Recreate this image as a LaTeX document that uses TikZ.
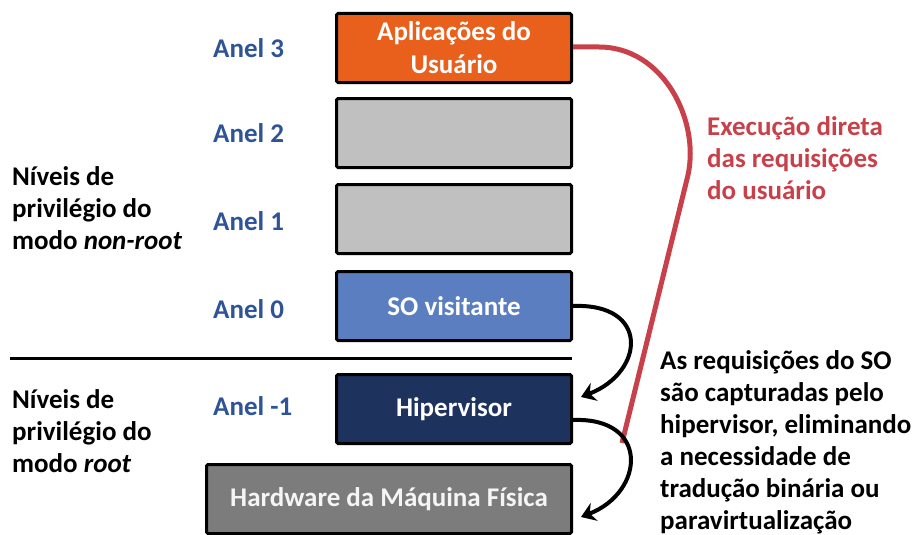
\documentclass[tikz,border=0pt]{standalone}
\usepackage{fontspec}
\setmainfont{Carlito}
\usetikzlibrary{arrows.meta}

\definecolor{ringblue}{RGB}{46,84,150}
\definecolor{userorange}{RGB}{232,96,28}
\definecolor{ringgray}{RGB}{192,192,192}
\definecolor{guestblue}{RGB}{90,126,192}
\definecolor{hypnavy}{RGB}{30,50,94}
\definecolor{hwgray}{RGB}{124,124,124}
\definecolor{directred}{RGB}{200,64,74}

\tikzset{
  ringbox/.style={draw=black, line width=3pt, rounded corners=1.5pt,
    minimum width=235pt, minimum height=69pt, inner sep=0pt, anchor=north west,
    text=white, font=\bfseries\fontsize{27}{33}\selectfont, align=center},
  ringlabel/.style={text=ringblue, font=\bfseries\fontsize{27}{32}\selectfont, anchor=west, inner sep=0pt},
  sidetext/.style={font=\bfseries\fontsize{27}{32}\selectfont, align=left, anchor=north west, inner sep=0pt},
  trap/.style={draw=black, line width=4pt, -{Stealth[length=14pt,width=19pt]}},
}

\begin{document}
\begin{tikzpicture}[x=1pt, y=-1pt]
  \useasboundingbox (0,0) rectangle (918,535);

  % privilege rings, top to bottom
  \node[ringbox, fill=userorange] (user) at (335,12) {Aplicações do\\Usuário};
  \node[ringbox, fill=ringgray] (r2) at (335,97) {};
  \node[ringbox, fill=ringgray] (r1) at (335,183) {};
  \node[ringbox, fill=guestblue] (guest) at (335,270) {SO visitante};
  \node[ringbox, fill=hypnavy] (hyp) at (335,373) {Hipervisor};
  \node[ringbox, fill=hwgray, minimum width=365pt, text=white!92!gray] (hw) at (205,463) {Hardware da Máquina Física};

  % ring labels
  \node[ringlabel] (a3) at (213,48) {Anel 3};
  \node[ringlabel] (a2) at (213,133) {Anel 2};
  \node[ringlabel] (a1) at (213,221) {Anel 1};
  \node[ringlabel] (a0) at (213,309) {Anel 0};
  \node[ringlabel] (am1) at (213,406) {Anel -1};

  % boundary between non-root and root modes
  \coordinate (sepL) at (10,358);
  \coordinate (sepR) at (572,358);
  \draw[line width=3pt] (sepL) -- (sepR);

  % mode descriptions
  \node[sidetext] (nonroot) at (12,166) {Níveis de\\privilégio do\\modo \textit{non-root}};
  \node[sidetext] (root) at (12,389) {Níveis de\\privilégio do\\modo \textit{root}};

  % direct execution path
  \coordinate (redend) at (622,443);
  \draw[directred, line width=5pt]
    ([yshift=1pt]user.east) -- ++(26,0)
    .. controls +(64,0) and (700,120) .. (688,175)
    -- (redend);

  \node[sidetext, text=directred] (direct) at (707,116) {Execução direta\\das requisições\\do usuário};

  % trapped requests
  \draw[trap] (guest.east) .. controls (650,303) and (645,372) .. ([xshift=8pt,yshift=-24pt]hyp.north east);
  \draw[trap] ([yshift=-11pt]hyp.east) .. controls (650,417) and (645,492) .. ([xshift=8pt,yshift=-54pt]hw.north east);

  \node[sidetext] (trapnote) at (660,350) {As requisições do SO\\são capturadas pelo\\hipervisor, eliminando\\a necessidade de\\tradução binária ou\\paravirtualização};
\end{tikzpicture}
\end{document}
